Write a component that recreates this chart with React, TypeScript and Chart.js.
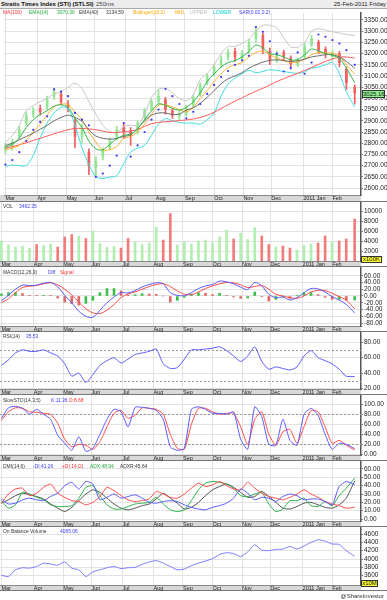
import React, { useEffect, useRef } from "react";
import { Chart, registerables } from "chart.js";

Chart.register(...registerables);

const FONT = '"Liberation Sans", Arial, Helvetica, sans-serif';

// ---------------- DATA ----------------
// trading-day index of each sample (Mar 1 2010 = 0 ... Feb 25 2011 = 251)
const days = [0, 5, 10, 15, 20, 25, 30, 35, 40, 45, 50, 55, 60, 65, 70, 75, 80, 85, 90, 95, 100, 105, 110, 115, 120, 125, 130, 135, 140, 145, 150, 155, 160, 165, 170, 175, 180, 185, 190, 195, 200, 205, 210, 215, 220, 225, 230, 235, 240, 245, 251];

const monthTicks = [0, 23, 44, 64, 86, 108, 129, 150, 171, 191, 214, 235];
const monthLabels = ["Mar", "Apr", "May", "Jun", "Jul", "Aug", "Sep", "Oct", "Nov", "Dec", "2011 Jan", "Feb"];

const openP = [2770, 2785, 2830, 2890, 2930, 2955, 2960, 3010, 3020, 2975, 2900, 2830, 2760, 2690, 2740, 2780, 2830, 2870, 2855, 2850, 2915, 2955, 2985, 2995, 2945, 2920, 2930, 2970, 3020, 3070, 3110, 3150, 3185, 3210, 3180, 3215, 3265, 3280, 3210, 3170, 3205, 3180, 3150, 3185, 3240, 3250, 3220, 3185, 3200, 3130, 3050];
const highP = [2800, 2820, 2875, 2940, 2960, 2970, 3010, 3045, 3030, 2990, 2910, 2885, 2775, 2740, 2780, 2825, 2875, 2885, 2870, 2900, 2955, 2995, 3040, 3005, 2955, 2945, 2970, 3015, 3070, 3110, 3150, 3190, 3220, 3225, 3215, 3265, 3315, 3290, 3225, 3210, 3215, 3190, 3180, 3245, 3280, 3260, 3230, 3215, 3210, 3140, 3060];
const lowP = [2755, 2770, 2820, 2880, 2915, 2925, 2950, 2995, 2970, 2940, 2780, 2800, 2660, 2650, 2725, 2770, 2815, 2820, 2790, 2840, 2905, 2945, 2975, 2930, 2910, 2905, 2920, 2960, 3010, 3060, 3100, 3140, 3170, 3165, 3170, 3200, 3250, 3200, 3150, 3160, 3170, 3140, 3140, 3175, 3230, 3200, 3180, 3170, 3140, 3040, 2975];
const closeP = [2785, 2805, 2860, 2925, 2945, 2940, 2995, 3030, 2985, 2960, 2830, 2865, 2700, 2720, 2765, 2810, 2860, 2850, 2835, 2890, 2945, 2985, 3010, 2950, 2925, 2930, 2955, 3005, 3060, 3100, 3140, 3175, 3205, 3185, 3200, 3250, 3300, 3220, 3175, 3195, 3190, 3155, 3170, 3230, 3265, 3215, 3200, 3200, 3160, 3070, 3025.16];

const ma100 = [2778, 2785, 2793, 2802, 2812, 2822, 2832, 2842, 2852, 2860, 2866, 2866, 2864, 2860, 2854, 2848, 2848, 2851, 2854, 2862, 2875, 2887, 2893, 2896, 2898, 2901, 2904, 2908, 2915, 2925, 2938, 2955, 2972, 2988, 3002, 3018, 3032, 3045, 3060, 3075, 3088, 3100, 3112, 3125, 3138, 3152, 3165, 3176, 3184, 3185, 3180];
const ema14 = [2782, 2795, 2824, 2870, 2905, 2928, 2945, 2965, 2972, 2960, 2912, 2870, 2810, 2775, 2770, 2795, 2820, 2835, 2840, 2865, 2905, 2945, 2975, 2970, 2955, 2948, 2960, 2985, 3025, 3075, 3110, 3140, 3160, 3168, 3185, 3210, 3238, 3225, 3200, 3195, 3185, 3172, 3173, 3195, 3220, 3212, 3200, 3192, 3178, 3135, 3070.36];
const ema40 = [2790, 2800, 2815, 2830, 2845, 2862, 2880, 2900, 2915, 2925, 2915, 2898, 2860, 2832, 2822, 2818, 2822, 2830, 2838, 2865, 2900, 2925, 2935, 2935, 2928, 2930, 2948, 2958, 2978, 3005, 3035, 3065, 3088, 3100, 3115, 3135, 3150, 3162, 3170, 3172, 3168, 3165, 3168, 3175, 3185, 3190, 3195, 3195, 3185, 3165, 3134.59];
const bbMid = [2770, 2778, 2790, 2815, 2850, 2885, 2925, 2962, 2975, 2972, 2940, 2905, 2850, 2805, 2768, 2772, 2785, 2822, 2830, 2850, 2885, 2930, 2968, 2972, 2962, 2950, 2940, 2960, 3000, 3035, 3075, 3110, 3137, 3150, 3160, 3185, 3205, 3210, 3195, 3180, 3170, 3160, 3162, 3175, 3195, 3205, 3202, 3202, 3190, 3150, 3108];
const bbUpper = [2802, 2835, 2880, 2945, 2968, 2985, 3000, 3020, 3030, 3050, 3068, 3045, 2985, 2930, 2880, 2853, 2846, 2875, 2880, 2880, 2930, 3005, 3040, 3045, 3025, 3000, 2990, 3015, 3085, 3110, 3150, 3200, 3232, 3232, 3245, 3265, 3300, 3326, 3326, 3315, 3270, 3230, 3228, 3250, 3300, 3311, 3305, 3297, 3292, 3285, 3280];
const bbLower = [2696, 2703, 2700, 2700, 2745, 2825, 2890, 2935, 2960, 2955, 2880, 2780, 2705, 2650, 2643, 2649, 2655, 2709, 2760, 2778, 2790, 2835, 2885, 2910, 2900, 2893, 2890, 2890, 2885, 2905, 2935, 3010, 3064, 3090, 3110, 3125, 3115, 3120, 3128, 3125, 3120, 3115, 3112, 3118, 3135, 3140, 3150, 3160, 3110, 3030, 2962];
const sar = [2705, 2725, 2760, 2810, 2860, 2895, 2920, 3040, 3030, 3010, 2935, 2905, 2880, 2650, 2665, 2700, 2745, 2890, 2740, 2790, 2850, 2905, 2950, 3042, 3010, 2975, 2911, 2940, 2975, 3020, 3060, 3095, 3122, 3150, 3170, 3190, 3318, 3297, 3255, 3200, 3120, 3135, 3205, 3110, 3160, 3285, 3275, 3260, 3245, 3215, 3150];

const volume = [4000, 3200, 2800, 3000, 2600, 3300, 3100, 3400, 2800, 4800, 5300, 5000, 4500, 6000, 3500, 2700, 2900, 2600, 4500, 3800, 3300, 3600, 6800, 4200, 9500, 3200, 3800, 3400, 4000, 4200, 3600, 4800, 6200, 4400, 5600, 4300, 6700, 5000, 3300, 2800, 3000, 2600, 2200, 3100, 3400, 3600, 5000, 3800, 4000, 4400, 8400];

const macdDiff = [-14, 2, 20, 32, 31, 32, 38, 40, 27, 2, -20, -45, -60, -63, -42, -20, -3, 10, 9, 16, 27, 34, 39, 36, 10, 2, 1, 10, 22, 30, 34, 44, 42, 36, 26, 19, 40, 30, 5, -5, -3, -12, -5, 10, 22, 21, 12, -2, -12, -25, -50];
const macdSignal = [-20, -8, 10, 25, 29, 31, 36, 39, 33, 20, 3, -18, -38, -50, -52, -42, -25, -5, 6, 12, 20, 28, 34, 36, 28, 15, 5, 4, 12, 22, 30, 36, 40, 39, 33, 25, 28, 31, 20, 5, 0, -5, -7, 0, 12, 17, 16, 8, -2, -12, -38];
const macdHist = [6, 10, 10, 7, 2, 1, 2, 1, -6, -18, -23, -27, -22, -13, 10, 22, 22, 15, 3, 4, 7, 6, 5, 0, -18, -13, -4, 6, 10, 8, 4, 8, 2, -3, -7, -6, 12, -1, -15, -10, -3, -7, 2, 10, 10, 4, -4, -10, -10, -13, -12];

const rsi = [50, 57, 66, 70, 68, 68, 70, 66, 62, 52, 36, 40, 28, 38, 50, 56, 60, 53, 58, 64, 66, 68, 71, 52, 46, 47, 58, 70, 70, 71, 72, 74, 69, 62, 55, 62, 74, 55, 45, 48, 46, 44, 48, 62, 69, 60, 56, 52, 45, 36, 35.53];

const stoK = [72, 93, 96, 92, 80, 90, 80, 70, 38, 22, 8, 35, 6, 12, 40, 70, 90, 85, 55, 94, 94, 92, 88, 70, 15, 8, 12, 90, 95, 90, 82, 82, 80, 85, 30, 10, 95, 75, 20, 18, 70, 28, 18, 80, 92, 78, 40, 10, 22, 20, 11.36];
const stoD = [68, 85, 93, 92, 85, 84, 82, 80, 62, 30, 15, 20, 18, 10, 25, 55, 82, 88, 72, 78, 93, 92, 90, 80, 40, 12, 10, 60, 92, 92, 85, 80, 82, 82, 55, 20, 70, 85, 40, 18, 45, 50, 22, 55, 88, 85, 55, 22, 28, 18, 8.68];

const minusDI = [24, 18, 19, 23, 25, 23, 22, 27, 31, 40, 44, 36, 45, 42, 23, 26, 30, 25, 27, 29, 25, 20, 19, 21, 22, 21, 17, 14, 12, 11, 14, 16, 19, 25, 36, 31, 23, 26, 25, 21, 27, 30, 28, 23, 24, 24, 21, 17, 39, 45, 41.26];
const plusDI = [19, 30, 36, 37, 28, 31, 38, 42, 31, 26, 22, 21, 17, 20, 27, 38, 34, 28, 23, 21, 22, 24, 33, 30, 26, 25, 30, 37, 43, 39, 41, 45, 40, 36, 35, 44, 37, 31, 27, 25, 23, 26, 30, 35, 30, 26, 21, 18, 16, 13, 14.01];
const adx = [22, 13, 17, 32, 30, 26, 23, 17, 15, 15, 16, 25, 38, 40, 28, 17, 12, 12, 15, 18, 19, 20, 26, 18, 11, 9, 11, 22, 35, 43, 45, 44, 42, 37, 28, 27, 30, 32, 18, 9, 12, 22, 22, 25, 16, 15, 21, 16, 28, 37, 48.94];
const adxr = [19, 23, 28, 31, 29, 27, 24, 18, 13, 9, 14, 22, 30, 35, 32, 25, 18, 13, 11, 13, 16, 18, 24, 31, 25, 19, 12, 14, 20, 28, 35, 39, 42, 38, 32, 26, 27, 33, 27, 20, 13, 12, 15, 19, 20, 17, 14, 13, 17, 25, 45.64];

const obv = [3610, 3580, 3740, 3790, 3780, 3820, 3900, 3880, 3850, 3930, 3780, 3740, 3580, 3690, 3740, 3790, 3820, 3770, 3790, 3800, 3870, 3930, 3960, 3900, 3820, 3740, 3760, 3840, 3900, 3950, 4010, 4110, 4150, 4130, 4060, 4170, 4340, 4210, 4200, 4230, 4240, 4300, 4240, 4310, 4400, 4460, 4430, 4360, 4350, 4200, 4065.06];

const priceTicks = [2600, 2650, 2700, 2750, 2800, 2850, 2900, 2950, 3000, 3050, 3100, 3150, 3200, 3250, 3300, 3350];
const volTicks = [2000, 4000, 6000, 8000, 10000];
const macdTicks = [-80, -60, -40, -20, 0, 20, 40, 60];
const rsiTicks = [20, 40, 60, 80];
const stoTicks = [0, 20, 40, 60, 80, 100];
const dmiTicks = [0, 10, 20, 30, 40, 50, 60];
const obvTicks = [3600, 3800, 4000, 4200, 4400, 4600];

// ---------------- HELPERS ----------------
const X_MIN = -1;
const X_MAX = 255.5;
const AXIS_W = 26;
const GRID = "#e2e2e2";

const pts = (arr: number[]) => arr.map((v, i) => ({ x: days[i], y: v }));
const spans = (a: number[], b: number[]) => a.map((v, i) => ({ x: days[i], y: [v, b[i]] }));
const upColors = (up: string, down: string) => closeP.map((c, i) => (c >= openP[i] ? up : down));
const fix2 = (v: any) => Number(v).toFixed(2);
const plain = (v: any) => String(v);

const line = (arr: number[], color: string, tension = 0.3) => ({
  type: "line",
  data: pts(arr),
  borderColor: color,
  borderWidth: 1,
  pointRadius: 0,
  tension,
  fill: false,
});

function yAxis(min: number, max: number, ticks: number[], fmt: (v: any) => string) {
  return {
    type: "linear",
    position: "right",
    min,
    max,
    grid: { color: GRID, tickLength: 2, tickColor: "#777" },
    border: { display: true, color: "#555", width: 1.5 },
    ticks: { padding: 1, autoSkip: false, color: "#222", font: { size: 6.5, family: FONT }, callback: fmt },
    afterBuildTicks: (s: any) => {
      s.ticks = ticks.map((v) => ({ value: v }));
    },
    afterFit: (s: any) => {
      s.width = AXIS_W;
      s.paddingTop = 0;
      s.paddingBottom = 0;
    },
  };
}

function xAxis(band: number) {
  return {
    type: "linear",
    min: X_MIN,
    max: X_MAX,
    offset: false,
    grid: { color: GRID, drawTicks: false, offset: false },
    border: { display: true, color: "#888" },
    ticks: {
      align: "start",
      padding: 0,
      autoSkip: false,
      maxRotation: 0,
      minRotation: 0,
      color: "#222",
      font: { size: 5.5, family: FONT },
      callback: (v: any) => {
        const i = monthTicks.indexOf(v);
        return i >= 0 ? monthLabels[i] : "";
      },
    },
    afterBuildTicks: (s: any) => {
      s.ticks = monthTicks.map((v) => ({ value: v }));
    },
    afterFit: (s: any) => {
      s.height = band;
      s.paddingLeft = 0;
      s.paddingRight = 0;
    },
  };
}

const bandPlugin = {
  id: "band",
  beforeDraw(chart: any) {
    const { ctx, chartArea: a, width, height } = chart;
    ctx.save();
    ctx.fillStyle = "#d8d8d8";
    ctx.fillRect(0, a.bottom, a.right, height - a.bottom);
    ctx.fillStyle = "#777";
    ctx.fillRect(0, height - 1, width, 1);
    ctx.restore();
  },
};

const levelPlugin = (levels: number[]) => ({
  id: "levels",
  beforeDatasetsDraw(chart: any) {
    const { ctx, chartArea: a, scales } = chart;
    ctx.save();
    ctx.strokeStyle = "#9a9a9a";
    ctx.lineWidth = 1;
    ctx.setLineDash([2, 2]);
    levels.forEach((v) => {
      const y = Math.round(scales.y.getPixelForValue(v)) + 0.5;
      ctx.beginPath();
      ctx.moveTo(a.left, y);
      ctx.lineTo(a.right, y);
      ctx.stroke();
    });
    ctx.restore();
  },
});

function options(band: number, y: any) {
  return {
    responsive: false,
    maintainAspectRatio: false,
    animation: false,
    events: [],
    layout: { padding: 0 },
    plugins: { legend: { display: false }, tooltip: { enabled: false }, title: { display: false } },
    scales: { x: xAxis(band), y },
  };
}

// ---------------- PANELS ----------------
const candleCol = upColors("#92e592", "#f25f5f");
const volCol = upColors("#b2eeb2", "#f27c7c");
const histCol = macdHist.map((v, i) => (i > 0 && v < macdHist[i - 1] ? "#e06a6a" : "#3cbf4c"));

const buildMain = () => ({
  type: "bar",
  data: {
    datasets: [
      { type: "line", data: pts(sar), showLine: false, pointRadius: 1.1, pointBorderWidth: 0, pointBackgroundColor: "#3434ff" },
      line(ema14, "#33b54d"),
      line(ema40, "#6a6a6a"),
      line(bbMid, "#ffb030"),
      line(ma100, "#ff5a5a"),
      line(bbUpper, "#c6c6c6"),
      line(bbLower, "#3fdcdc"),
      { type: "bar", data: spans(openP, closeP), backgroundColor: candleCol, barThickness: 2, grouped: false, borderWidth: 0 },
      { type: "bar", data: spans(lowP, highP), backgroundColor: candleCol, barThickness: 1, grouped: false, borderWidth: 0 },
    ],
  },
  options: options(7, yAxis(2569, 3381, priceTicks, fix2)),
  plugins: [bandPlugin],
});

const buildVol = () => ({
  type: "bar",
  data: { datasets: [{ data: pts(volume), backgroundColor: volCol, barThickness: 2, borderWidth: 0 }] },
  options: options(6, yAxis(0, 11800, volTicks, plain)),
  plugins: [bandPlugin],
});

const buildMacd = () => ({
  type: "bar",
  data: {
    datasets: [
      line(macdDiff, "#5a5aff"),
      line(macdSignal, "#ff4a4a"),
      { type: "bar", data: pts(macdHist), backgroundColor: histCol, barThickness: 2, borderWidth: 0 },
    ],
  },
  options: options(6, yAxis(-88.8, 85.8, macdTicks, fix2)),
  plugins: [bandPlugin],
});

const buildRsi = () => ({
  type: "line",
  data: { datasets: [line(rsi, "#5a5aff", 0.2)] },
  options: options(6, yAxis(19.5, 93, rsiTicks, fix2)),
  plugins: [bandPlugin, levelPlugin([30, 70])],
});

const buildSto = () => ({
  type: "line",
  data: { datasets: [line(stoK, "#5a5aff", 0.2), line(stoD, "#ff4a4a", 0.2)] },
  options: options(6, yAxis(-1.4, 118.6, stoTicks, fix2)),
  plugins: [bandPlugin, levelPlugin([20, 80])],
});

const buildDmi = () => ({
  type: "line",
  data: {
    datasets: [
      line(minusDI, "#5a5aff", 0.2),
      line(plusDI, "#ff4a4a", 0.2),
      line(adx, "#2aae4a", 0.2),
      line(adxr, "#505050", 0.2),
    ],
  },
  options: options(6, yAxis(-2.4, 69.6, dmiTicks, fix2)),
  plugins: [bandPlugin],
});

const buildObv = () => ({
  type: "line",
  data: { datasets: [line(obv, "#7a7aff", 0.2)] },
  options: options(6, yAxis(3376, 4768, obvTicks, plain)),
  plugins: [bandPlugin],
});

function ChartPanel({ top, height, build }: { top: number; height: number; build: () => any }) {
  const ref = useRef<HTMLCanvasElement>(null);
  useEffect(() => {
    const c = new Chart(ref.current as HTMLCanvasElement, build() as any);
    return () => c.destroy();
  }, [build]);
  return (
    <canvas
      ref={ref}
      width={387}
      height={height}
      style={{ position: "absolute", left: 0, top, width: 387, height, display: "block" }}
    />
  );
}

function T({ x, y, c = "#333", b = false, s = 6, k = 0.82, children }: any) {
  return (
    <span
      style={{
        position: "absolute",
        left: x,
        top: y - 3.5,
        fontSize: s,
        lineHeight: "7px",
        color: c,
        fontWeight: b ? "bold" : "normal",
        whiteSpace: "nowrap",
        fontFamily: FONT,
        display: "inline-block",
        transform: `scaleX(${k})`,
        transformOrigin: "left center",
      }}
    >
      {children}
    </span>
  );
}

function Box({ x, y, w, h, bg, children }: any) {
  return (
    <div
      style={{
        position: "absolute",
        left: x,
        top: y,
        width: w,
        height: h,
        background: bg,
        border: "1px solid #333",
        boxSizing: "border-box",
        fontSize: 6,
        lineHeight: `${h - 2}px`,
        fontFamily: FONT,
        color: "#111",
        textAlign: "center",
        whiteSpace: "nowrap",
        overflow: "hidden",
      }}
    >
      {children}
    </div>
  );
}

export default function App() {
  return (
    <div style={{ position: "fixed", left: 0, top: 0, width: 387, height: 600, background: "#fff", overflow: "hidden" }}>
      <style>{"body{margin:0;background:#fff}"}</style>
      <div
        style={{
          position: "absolute",
          left: 0,
          top: 0,
          width: 387,
          height: 9,
          background: "#ededed",
          borderBottom: "1px solid #aaa",
          boxSizing: "border-box",
        }}
      />
      <ChartPanel top={9} height={193} build={buildMain} />
      <ChartPanel top={202} height={65} build={buildVol} />
      <ChartPanel top={267} height={65} build={buildMacd} />
      <ChartPanel top={332} height={63} build={buildRsi} />
      <ChartPanel top={395} height={66} build={buildSto} />
      <ChartPanel top={461} height={66} build={buildDmi} />
      <ChartPanel top={527} height={64} build={buildObv} />

      <T x={1} y={4.5} c="#111" b k={1}>Straits Times Index (STI) (STLSI)</T>
      <T x={96} y={4.5} c="#444" k={1}>250ms</T>
      <span style={{ position: "absolute", right: 1, top: 1, fontSize: 6, lineHeight: "7px", color: "#222", fontFamily: FONT }}>25-Feb-2011 Friday</span>

      <T x={3} y={12.5} c="#ff3030">MA(100)</T>
      <T x={29} y={12.5} c="#1fa83a">EMA(14)</T>
      <T x={57} y={12.5} c="#1fa83a">3070.36</T>
      <T x={79} y={12.5} c="#333">EMA(40)</T>
      <T x={106} y={12.5} c="#333">3134.59</T>
      <T x={133} y={12.5} c="#ffa500">Bollinger(20,2)</T>
      <T x={175} y={12.5} c="#ffa500">MID</T>
      <T x={190} y={12.5} c="#b8b8b8">UPPER</T>
      <T x={213} y={12.5} c="#00cccc">LOWER</T>
      <T x={239} y={12.5} c="#3a3aff">SAR(0.02,0.2)</T>

      <T x={3} y={206}>VOL</T>
      <T x={19} y={206} c="#3a3aff">3462.35</T>

      <T x={3} y={272}>MACD(12,26,9)</T>
      <T x={48} y={272} c="#3a3aff">Diff</T>
      <T x={60} y={272} c="#ff3030">Signal</T>

      <T x={3} y={336}>RSI(14)</T>
      <T x={26} y={336} c="#3a3aff">35.53</T>

      <T x={3} y={400}>SlowSTO(14,3,5)</T>
      <T x={51} y={400} c="#3a3aff">K:11.36</T>
      <T x={69} y={400} c="#ff3030">D:8.68</T>

      <T x={3} y={466}>DMI(14,6)</T>
      <T x={33} y={466} c="#3a3aff">-DI:41.26</T>
      <T x={62} y={466} c="#ff3030">+DI:14.01</T>
      <T x={90} y={466} c="#1fa83a">ADX:48.94</T>
      <T x={120} y={466} c="#333">ADXR:45.64</T>

      <T x={3} y={531}>On Balance Volume</T>
      <T x={60} y={531} c="#3a3aff">4065.06</T>

      <Box x={362} y={90} w={23} h={8} bg="#8ef08e">3025.16</Box>
      <Box x={361} y={256} w={21} h={7} bg="#ffff33">x100K</Box>
      <Box x={361} y={580} w={17} h={7} bg="#ffff33">x10M</Box>

      <span style={{ position: "absolute", right: 3, top: 593, fontSize: 6, lineHeight: "7px", color: "#333", fontFamily: FONT }}>@ShareInvestor</span>
    </div>
  );
}
